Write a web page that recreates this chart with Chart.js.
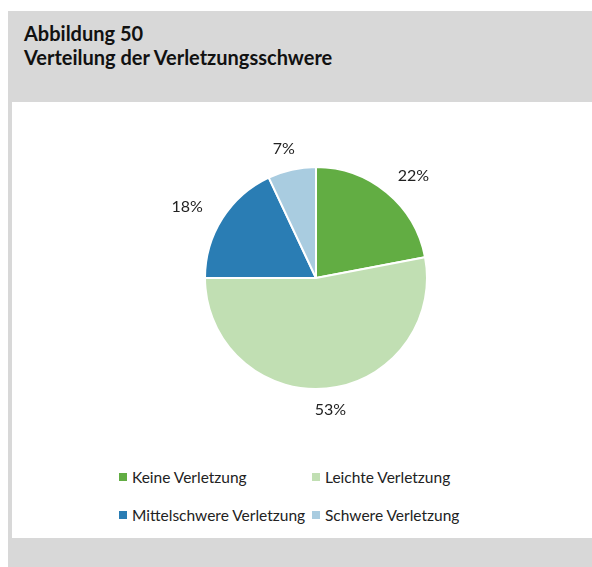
<!DOCTYPE html>
<html>
<head>
<meta charset="utf-8">
<script src="https://cdn.jsdelivr.net/npm/chart.js@4"></script>
<style>
  body { margin: 0; background: #fff; font-family: "Lato", "Open Sans", sans-serif; }
  #frame { position: absolute; left: 8px; top: 11px; width: 584px; height: 556px; background: #d8d8d8; }
  #title { position: absolute; left: 16px; top: 10px; font-weight: bold; font-size: 20px; line-height: 24px; color: #111; }
  #panel { position: absolute; left: 12px; top: 102px; width: 580px; height: 436px; background: #fff; }
  #chartBox { position: absolute; left: 0; top: 0; width: 580px; height: 352px; }
  #legend { position: absolute; left: 107px; top: 365px; display: grid; grid-template-columns: 193px auto; row-gap: 18px; font-size: 15.5px; color: #222; }
  #legend div { display: flex; align-items: center; height: 20px; }
  #legend span.box { width: 8px; height: 8px; margin-right: 5px; display: inline-block; }
</style>
</head>
<body>
<div id="frame">
  <div id="title">Abbildung 50<br>Verteilung der Verletzungsschwere</div>
</div>
<div id="panel">
  <div id="chartBox"><canvas id="pie"></canvas></div>
  <div id="legend"></div>
</div>
<script>
const categories = ['Keine Verletzung', 'Leichte Verletzung', 'Mittelschwere Verletzung', 'Schwere Verletzung'];
const shares = [22, 53, 18, 7];
const colors = ['#62ad43', '#c1dfb3', '#2a7db4', '#a9cce0'];

// Prozentwerte außerhalb der Tortenstücke
const outsideLabels = {
    id: 'outsideLabels',
    afterDatasetsDraw(chart) {
        const ctx = chart.ctx;
        const meta = chart.getDatasetMeta(0);
        ctx.save();
        ctx.font = '16px Lato, "Open Sans", sans-serif';
        ctx.fillStyle = '#222';
        ctx.textAlign = 'center';
        ctx.textBaseline = 'middle';
        meta.data.forEach((arc, i) => {
            const mid = (arc.startAngle + arc.endAngle) / 2;
            const text = shares[i] + '%';
            const hw = ctx.measureText(text).width / 2;
            const hh = 8;
            const x = arc.x + (arc.outerRadius + 26 + hw) * Math.cos(mid);
            const y = arc.y + (arc.outerRadius + 13 + hh) * Math.sin(mid);
            ctx.fillText(text, x, y);
        });
        ctx.restore();
    }
};

new Chart(document.getElementById('pie').getContext('2d'), {
    type: 'pie',
    data: {
        labels: categories,
        datasets: [{
            data: shares,
            backgroundColor: colors,
            borderColor: '#ffffff',
            borderWidth: 2
        }]
    },
    options: {
        responsive: true,
        maintainAspectRatio: false,
        animation: false,
        radius: 111,
        layout: { padding: { left: 28 } },
        plugins: {
            legend: { display: false },
            tooltip: { enabled: false }
        }
    },
    plugins: [outsideLabels]
});

// Legende als Raster mit zwei Spalten
const legend = document.getElementById('legend');
categories.forEach((name, i) => {
    const item = document.createElement('div');
    item.innerHTML = '<span class="box" style="background:' + colors[i] + '"></span>' + name;
    legend.appendChild(item);
});
</script>
</body>
</html>
